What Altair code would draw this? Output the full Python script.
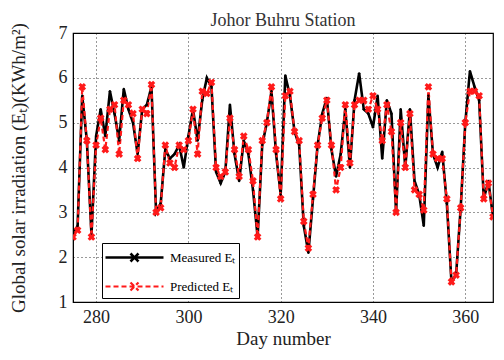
import altair as alt
import pandas as pd

days = list(range(275, 367))
measured = [2.5, 2.7, 5.6, 4.6, 2.5, 4.7, 5.3, 4.7, 5.7, 5.2,
            4.6, 5.75, 5.3, 5.0, 4.3, 5.3, 5.4, 5.8, 3.0, 3.2,
            4.4, 4.2, 4.3, 4.5, 4.0, 4.7, 5.3, 4.6, 5.5, 6.0,
            5.8, 3.9, 3.65, 3.9, 5.4, 4.3, 3.7, 4.6, 4.3, 3.5,
            2.45, 4.5, 5.0, 5.7, 4.3, 3.4, 6.05, 5.6, 4.8, 4.5,
            2.7, 2.1, 3.3, 4.5, 5.2, 5.55, 4.4, 3.8, 4.3, 5.3,
            4.0, 5.5, 6.1, 5.3, 5.2, 4.9, 5.6, 4.2, 5.5, 5.2,
            3.0, 5.3, 4.0, 5.3, 3.7, 3.4, 2.7, 5.6, 4.3, 4.0,
            4.35, 3.2, 1.45, 1.6, 3.1, 5.0, 6.15, 5.8, 5.5, 3.3,
            3.7, 2.9]
predicted = [2.45, 2.6, 5.8, 4.6, 2.45, 4.5, 5.1, 4.4, 5.3, 5.4,
             4.3, 5.5, 5.4, 5.2, 4.2, 5.3, 5.2, 5.85, 3.0, 3.1,
             4.5, 4.1, 4.0, 4.5, 4.4, 4.6, 5.3, 4.3, 5.7, 5.65,
             5.9, 4.0, 3.8, 3.9, 5.1, 4.4, 3.8, 4.7, 4.4, 3.7,
             2.45, 4.6, 5.0, 5.8, 4.4, 3.3, 5.6, 5.7, 4.8, 4.6,
             2.8, 2.2, 3.4, 4.5, 5.1, 5.5, 4.5, 3.5, 4.0, 5.4,
             4.1, 5.4, 5.5, 5.5, 5.3, 5.6, 5.3, 4.6, 5.4, 4.8,
             3.0, 5.0, 4.0, 5.2, 3.5, 3.4, 3.05, 5.8, 4.3, 4.2,
             4.2, 3.3, 1.45, 1.6, 3.1, 5.0, 5.7, 5.7, 5.6, 3.3,
             3.65, 2.9]

series_names = ["Measured E\u209c", "Predicted E\u209c"]
x_ticks = [280, 300, 320, 340, 360]
y_ticks = [1, 2, 3, 4, 5, 6, 7]

df = pd.DataFrame({
    "day": days * 2,
    "value": measured + predicted,
    "series": [series_names[0]] * len(days) + [series_names[1]] * len(days),
})

serif = "Liberation Serif"

x_enc = alt.X("day:Q", scale=alt.Scale(domain=[275, 366], nice=False),
              axis=alt.Axis(values=x_ticks, title="Day number", format="d"))
y_enc = alt.Y("value:Q", scale=alt.Scale(domain=[1, 7], nice=False),
              axis=alt.Axis(values=y_ticks,
                            title="Global solar irradiation (E\u209c)(KWh/m\u00b2)"))

base = alt.Chart(df)

lines = base.mark_line(clip=True).encode(
    x=x_enc, y=y_enc,
    color=alt.Color("series:N",
                    scale=alt.Scale(domain=series_names, range=["black", "#ff1a1a"]),
                    legend=alt.Legend(
                        title=None, orient="none", legendX=29, legendY=210,
                        direction="vertical",
                        strokeColor="black", fillColor="white", padding=3,
                        symbolType="M-2.9,0H2.9M-0.4,-0.4L0.4,0.4M-0.4,0.4L0.4,-0.4",
                        symbolSize=400, symbolOffset=18, labelOffset=24,
                        symbolStrokeWidth=2.4, rowPadding=8,
                        labelExpr="datum.label + '\u00a0\u00a0\u00a0'",
                        labelFont=serif, labelFontSize=13,
                        labelColor="black")),
    strokeDash=alt.StrokeDash("series:N",
                              scale=alt.Scale(domain=series_names, range=[[1, 0], [5, 3]]),
                              legend=None),
    strokeWidth=alt.StrokeWidth("series:N",
                                scale=alt.Scale(domain=series_names, range=[2.6, 2.2]),
                                legend=None),
    order=alt.Order("day:Q"),
)

meas_pts = alt.Chart(df[df.series == series_names[0]]).mark_point(
    filled=True, shape="circle", size=6, color="black", opacity=1, clip=True
).encode(x=x_enc, y=y_enc)

pred_pts = alt.Chart(df[df.series == series_names[1]]).mark_point(
    filled=True, shape="cross", angle=45, size=60, color="#ff1a1a", opacity=1, clip=True
).encode(x=x_enc, y=y_enc)

chart = alt.layer(lines, meas_pts, pred_pts).properties(
    width=420, height=269,
    title=alt.Title("Johor Buhru Station", font=serif, fontSize=18,
                    fontWeight="normal", color="#333", offset=0, dy=7,
                    frame="group"),
    autosize=alt.AutoSizeParams(type="none"),
    padding={"left": 65, "top": 25, "right": 3, "bottom": 52},
).configure_view(
    stroke="black", strokeWidth=1.2
).configure_axis(
    labelFont=serif, titleFont=serif, labelFontSize=18, titleFontSize=19,
    titleFontWeight="normal", labelColor="#222", titleColor="#222",
    grid=True, gridColor="black", gridDash=[1, 3], gridOpacity=0.8,
    ticks=False, domain=True, domainColor="black",
).configure_axisX(
    labelPadding=6, titlePadding=3
).configure_axisY(
    labelPadding=6, titlePadding=30
)

chart.save("out.html", embed_options={"renderer": "svg", "actions": False})
